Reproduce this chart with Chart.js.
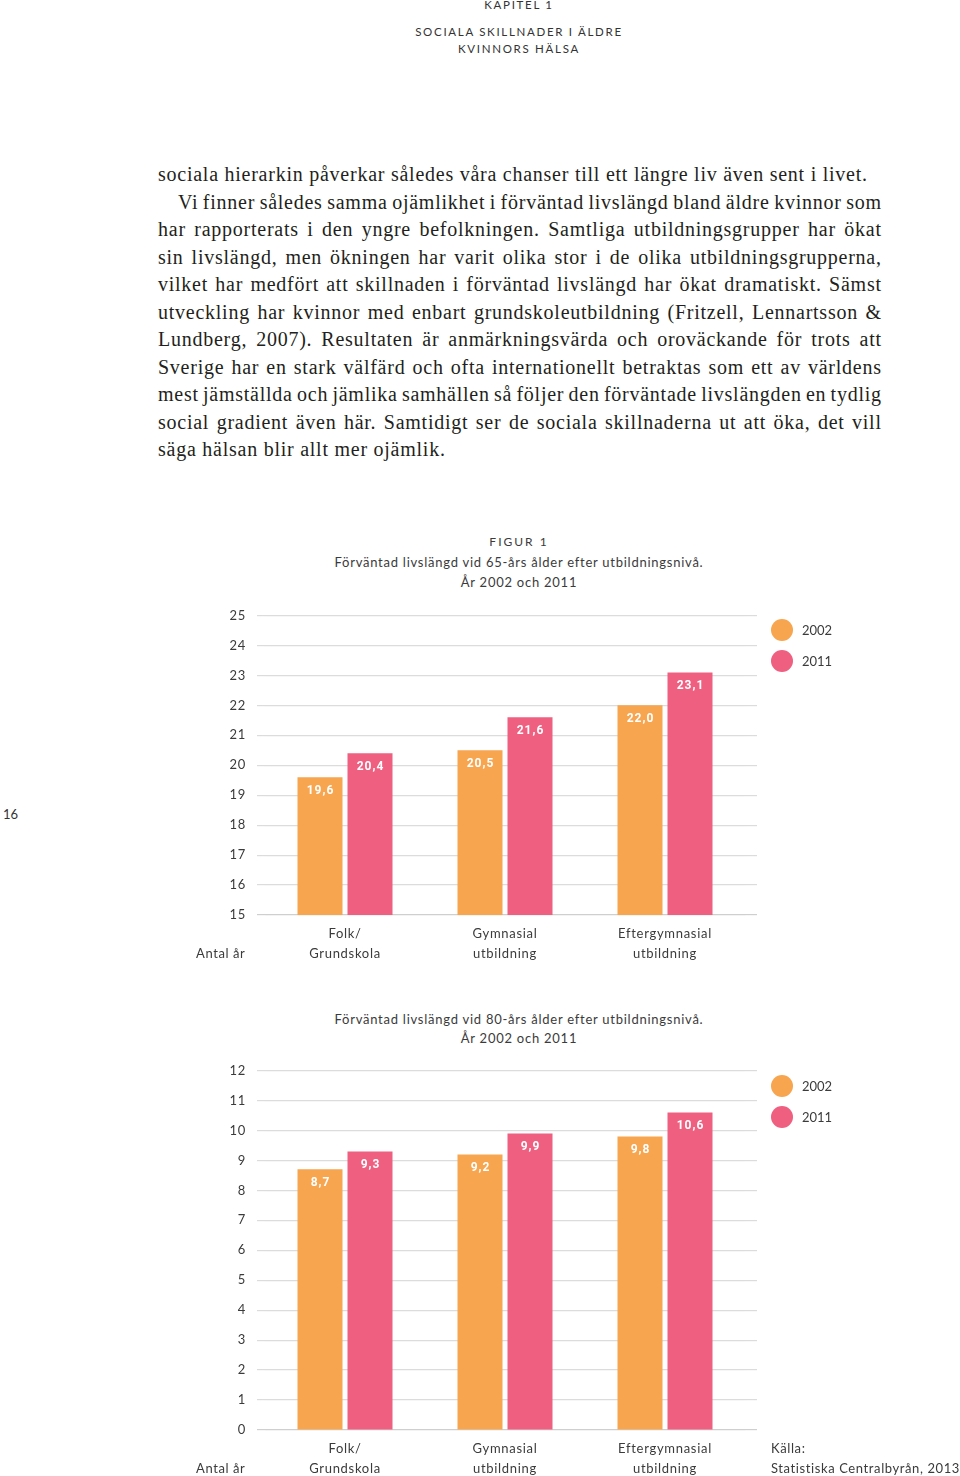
<!DOCTYPE html>
<html>
<head>
<meta charset="utf-8">
<script src="https://cdn.jsdelivr.net/npm/chart.js@4.4.0/dist/chart.umd.min.js"></script>
<style>
  body { margin: 0; width: 960px; height: 1476px; position: relative; overflow: hidden; background: #fff; font-family: Lato, "Noto Sans", sans-serif; color: #3b3b3b; }
  .abs { position: absolute; white-space: nowrap; }
  .c { left: 219px; width: 600px; text-align: center; }
  .hdr { font-size: 11.5px; letter-spacing: 1.7px; line-height: 14px; color: #333; }
  .body { left: 158px; width: 723px; font-family: "Liberation Serif", serif; font-size: 20px; letter-spacing: 0.75px; line-height: 27.5px; color: #231f20; }
  .body div { white-space: nowrap; }
  .fig { font-size: 12px; letter-spacing: 2px; line-height: 16px; }
  .ttl { font-size: 13px; letter-spacing: 0.75px; line-height: 20px; }
  .lbl { font-size: 13px; letter-spacing: 0.6px; line-height: 20px; }
  .leg { font-size: 13px; line-height: 20px; }
  .dot { position: absolute; width: 22px; height: 22px; border-radius: 50%; }
</style>
</head>
<body>
<div class="abs c hdr" style="top:-2px">KAPITEL 1</div>
<div class="abs c hdr" style="top:25px">SOCIALA SKILLNADER I ÄLDRE</div>
<div class="abs c hdr" style="top:42px">KVINNORS HÄLSA</div>

<div class="abs body" id="bodytext" style="top:161px">
  <div>sociala hierarkin påverkar således våra chanser till ett längre liv även sent i livet.</div>
  <div class="j" style="padding-left:20px">Vi finner således samma ojämlikhet i förväntad livslängd bland äldre kvinnor som</div>
  <div class="j">har rapporterats i den yngre befolkningen. Samtliga utbildningsgrupper har ökat</div>
  <div class="j">sin livslängd, men ökningen har varit olika stor i de olika utbildningsgrupperna,</div>
  <div class="j">vilket har medfört att skillnaden i förväntad livslängd har ökat dramatiskt. Sämst</div>
  <div class="j">utveckling har kvinnor med enbart grundskoleutbildning (Fritzell, Lennartsson &amp;</div>
  <div class="j">Lundberg, 2007). Resultaten är anmärkningsvärda och oroväckande för trots att</div>
  <div class="j">Sverige har en stark välfärd och ofta internationellt betraktas som ett av världens</div>
  <div class="j">mest jämställda och jämlika samhällen så följer den förväntade livslängden en tydlig</div>
  <div class="j">social gradient även här. Samtidigt ser de sociala skillnaderna ut att öka, det vill</div>
  <div>säga hälsan blir allt mer ojämlik.</div>
</div>

<div class="abs" style="left:3px;top:806px;font-size:13px;color:#333">16</div>

<!-- figur 1 -->
<div class="abs c fig" style="top:534px">FIGUR 1</div>
<div class="abs c ttl" style="top:552px">Förväntad livslängd vid 65-års ålder efter utbildningsnivå.</div>
<div class="abs c ttl" style="top:572px">År 2002 och 2011</div>
<canvas id="chart65" class="abs" style="left:180px;top:600px"></canvas>
<div class="abs lbl" style="left:196px;top:943px">Antal år</div>
<div id="legend65"></div>

<!-- figur 2 -->
<div class="abs c ttl" style="top:1009px">Förväntad livslängd vid 80-års ålder efter utbildningsnivå.</div>
<div class="abs c ttl" style="top:1028px">År 2002 och 2011</div>
<canvas id="chart80" class="abs" style="left:180px;top:1055px"></canvas>
<div class="abs lbl" style="left:196px;top:1458px">Antal år</div>
<div id="legend80"></div>
<div class="abs lbl" style="left:771px;top:1438px">Källa:</div>
<div class="abs lbl" style="left:771px;top:1458px">Statistiska Centralbyrån, 2013</div>

<script>
// data
const categories = [["Folk/", "Grundskola"], ["Gymnasial", "utbildning"], ["Eftergymnasial", "utbildning"]];
const seriesNames = ["2002", "2011"];
const seriesColors = ["#F7A54F", "#EF5F80"];

const age65_2002 = [19.6, 20.5, 22.0];
const age65_2011 = [20.4, 21.6, 23.1];
const age65Ticks = [15, 25, 1]; // min, max, step

const age80_2002 = [8.7, 9.2, 9.8];
const age80_2011 = [9.3, 9.9, 10.6];
const age80Ticks = [0, 12, 1];

// justify the body lines to the column width
document.querySelectorAll("#bodytext .j").forEach((el) => {
  const indent = parseFloat(el.style.paddingLeft) || 0;
  const span = document.createElement("span");
  span.textContent = el.textContent;
  el.textContent = "";
  el.appendChild(span);
  const natural = span.getBoundingClientRect().width - 0.75;
  const spaces = (span.textContent.match(/ /g) || []).length;
  el.style.wordSpacing = (723 - indent - natural) / spaces + "px";
});

// a bit of tracking for the axis text, like the print original
const tracking = {
  id: "tracking",
  beforeDraw(chart) {
    chart.ctx.letterSpacing = "0.7px";
  },
};

// white value labels inside the top of each bar
const valueLabels = {
  id: "valueLabels",
  afterDatasetsDraw(chart) {
    const ctx = chart.ctx;
    ctx.save();
    ctx.font = "bold 12px Roboto, sans-serif";
    ctx.letterSpacing = "1px";
    ctx.fillStyle = "#ffffff";
    ctx.textAlign = "center";
    ctx.textBaseline = "middle";
    chart.data.datasets.forEach((ds, i) => {
      chart.getDatasetMeta(i).data.forEach((bar, j) => {
        const txt = ds.data[j].toFixed(1).replace(".", ",");
        ctx.fillText(txt, bar.x + 0.5, bar.y + 14);
      });
    });
    ctx.restore();
  },
};

const makeLegend = (id, top) => {
  const box = document.getElementById(id);
  seriesNames.forEach((name, i) => {
    const y = top + i * 31;
    box.innerHTML +=
      `<div class="dot" style="left:771px;top:${y - 11}px;background:${seriesColors[i]}"></div>` +
      `<div class="abs leg" style="left:802px;top:${y - 10}px">${name}</div>`;
  });
};

const makeChart = (canvasId, dataA, dataB, tickDef, height) => {
  const [min, max, step] = tickDef;
  const canvas = document.getElementById(canvasId);
  canvas.width = 600;
  canvas.height = height;
  const gridColor = (c) => (c.tick && c.tick.value === min ? "#cfcfcf" : "#dcdcdc");
  return new Chart(canvas, {
    type: "bar",
    data: {
      labels: categories,
      datasets: [
        { label: seriesNames[0], data: dataA, backgroundColor: seriesColors[0] },
        { label: seriesNames[1], data: dataB, backgroundColor: seriesColors[1] },
      ],
    },
    options: {
      responsive: false,
      animation: false,
      categoryPercentage: 0.625,
      barPercentage: 0.9,
      layout: { padding: { left: 0, right: 23, top: 15.5, bottom: 0 } },
      plugins: { legend: { display: false }, tooltip: { enabled: false } },
      scales: {
        x: {
          grid: { display: false, drawTicks: false },
          border: { display: false },
          ticks: {
            padding: 9,
            color: "#3b3b3b",
            font: { family: "Lato", size: 13, lineHeight: 20 / 13 },
            maxRotation: 0,
            autoSkip: false,
          },
          afterFit: (scale) => { scale.height = 55; },
        },
        y: {
          min: min,
          max: max,
          border: { display: false },
          grid: { color: gridColor, lineWidth: 1.2, tickLength: 8 },
          ticks: {
            stepSize: step,
            padding: 11,
            color: "#3b3b3b",
            font: { family: "Lato", size: 13 },
          },
          afterFit: (scale) => {
            scale.width = 85;
            scale.paddingTop = 0;
            scale.paddingBottom = 0;
          },
        },
        yRight: {
          position: "right",
          min: min,
          max: max,
          border: { display: false },
          grid: { color: gridColor, lineWidth: 1.2, tickLength: 12, drawOnChartArea: false },
          ticks: { stepSize: step, display: false },
          afterFit: (scale) => {
            scale.width = 12;
            scale.paddingTop = 0;
            scale.paddingBottom = 0;
          },
        },
      },
    },
    plugins: [tracking, valueLabels],
  });
};

makeChart("chart65", age65_2002, age65_2011, age65Ticks, 370);
makeChart("chart80", age80_2002, age80_2011, age80Ticks, 430);
makeLegend("legend65", 630);
makeLegend("legend80", 1086);
</script>
</body>
</html>
